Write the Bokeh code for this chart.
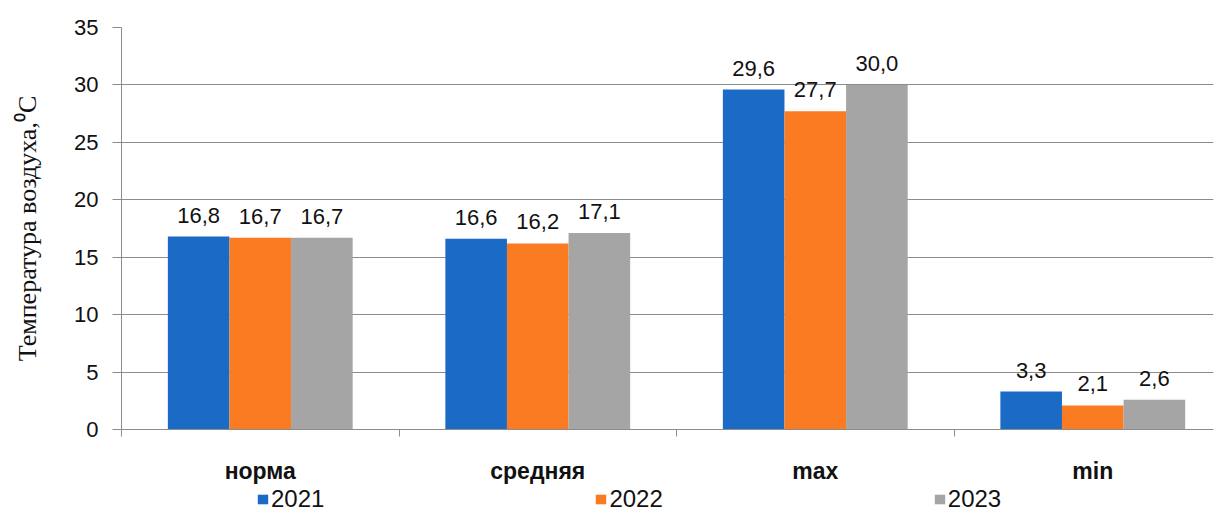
from bokeh.plotting import figure
from bokeh.layouts import column
from bokeh.core.properties import value
from bokeh.models import ColumnDataSource, FixedTicker, Legend, LegendItem, Range1d, LabelSet
from bokeh.embed import file_html
from bokeh.resources import INLINE

categories = ["норма", "средняя", "max", "min"]
years = ["2021", "2022", "2023"]
t2021 = [16.8, 16.6, 29.6, 3.3]
t2022 = [16.7, 16.2, 27.7, 2.1]
t2023 = [16.7, 17.1, 30.0, 2.6]
y_ticks = [0, 5, 10, 15, 20, 25, 30, 35]

colors = ["#1B6BC6", "#FA7B22", "#A5A5A5"]
series = [t2021, t2022, t2023]

FONT = "Liberation Sans"
AXIS_GRAY = "#8C8C8C"
INK = "#111111"

p = figure(width=1223, height=486, output_backend="svg", toolbar_location=None,
           x_range=Range1d(0, 3.935), y_range=Range1d(0, 35),
           min_border_left=121, min_border_right=10, min_border_top=27, min_border_bottom=55)
p.outline_line_color = None
p.xgrid.grid_line_color = None
p.ygrid.grid_line_color = AXIS_GRAY
p.ygrid.grid_line_width = 1

centers = [i + 0.5 for i in range(len(categories))]
bw = 0.222
offsets = [-bw, 0, bw]

for vals, col, off in zip(series, colors, offsets):
    src = ColumnDataSource(dict(x=[c + off for c in centers], top=vals,
                                lbl=[f"{v:.1f}".replace(".", ",") for v in vals]))
    p.vbar(x="x", top="top", width=bw, bottom=0, source=src,
           fill_color=col, line_color=None)
    p.add_layout(LabelSet(x="x", y="top", text="lbl", source=src, text_align="center",
                          text_baseline="bottom", y_offset=14, text_font=value(FONT),
                          text_font_size=value("22px"), text_color=INK))

# y axis
p.yaxis.ticker = FixedTicker(ticks=y_ticks)
p.yaxis.axis_line_color = AXIS_GRAY
p.yaxis.major_tick_line_color = AXIS_GRAY
p.yaxis.major_tick_out = 9
p.yaxis.major_tick_in = 0
p.yaxis.minor_tick_line_color = None
p.yaxis.major_label_text_font = FONT
p.yaxis.major_label_text_font_size = "22px"
p.yaxis.major_label_text_color = INK
p.yaxis.major_label_standoff = 14
p.yaxis.axis_label = "Температура воздуха,⁰C"
p.yaxis.axis_label_text_font = "Liberation Serif"
p.yaxis.axis_label_text_font_style = "normal"
p.yaxis.axis_label_text_font_size = "26px"
p.yaxis.axis_label_text_color = INK
p.yaxis.axis_label_standoff = 29

# x axis: category names at group centers, separators as minor ticks
p.xaxis.ticker = FixedTicker(ticks=centers, minor_ticks=[0, 1, 2, 3])
p.xaxis.major_label_overrides = {c: n for c, n in zip(centers, categories)}
p.xaxis.axis_line_color = AXIS_GRAY
p.xaxis.major_tick_line_color = None
p.xaxis.minor_tick_line_color = AXIS_GRAY
p.xaxis.minor_tick_out = 7
p.xaxis.minor_tick_in = 0
p.xaxis.major_label_standoff = 21
p.xaxis.major_label_text_font = FONT
p.xaxis.major_label_text_font_style = "bold"
p.xaxis.major_label_text_font_size = "23px"
p.xaxis.major_label_text_color = INK

# legend strip under the chart; its swatch renderers sit outside the visible range
leg = figure(width=1223, height=27, output_backend="svg", toolbar_location=None,
             x_range=Range1d(0, 1), y_range=Range1d(0, 1),
             min_border_left=0, min_border_right=0, min_border_top=0, min_border_bottom=0)
leg.axis.visible = False
leg.grid.visible = False
leg.outline_line_color = None
leg_renderers = [leg.vbar(x=[5], top=[5], bottom=[4], width=0.1, fill_color=c, line_color=None)
                 for c in colors]
legend = Legend(items=[LegendItem(label=y, renderers=[r]) for y, r in zip(years, leg_renderers)],
                orientation="horizontal", location=(135, 0), spacing=270,
                glyph_width=13, glyph_height=12, label_standoff=2,
                label_text_font=FONT, label_text_font_size="24px", label_text_color=INK,
                border_line_color=None, background_fill_alpha=0, padding=0, margin=0)
leg.add_layout(legend, "center")

page = column(p, leg, spacing=0)
open("out.html", "w").write(file_html(page, INLINE))
